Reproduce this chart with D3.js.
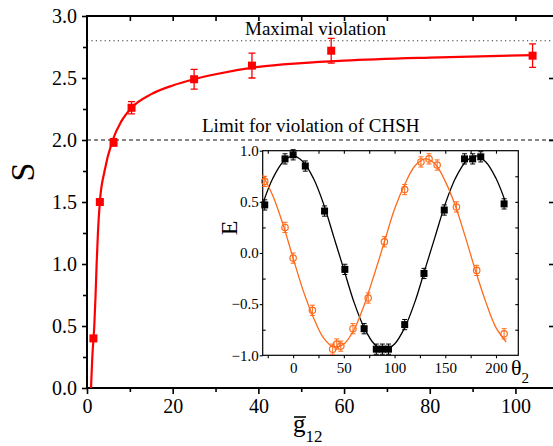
<!DOCTYPE html>
<html>
<head>
<meta charset="utf-8">
<script src="https://cdn.jsdelivr.net/npm/d3@7"></script>
<style>
  body { margin: 0; background: #fff; }
  svg { display: block; }
  svg text { font-family: "Liberation Serif", "Times New Roman", Times, Tinos, "DejaVu Serif", serif; }
</style>
</head>
<body>
<div id="chart"></div>
<script>
// main panel: S versus g12
const gVals = [1.5, 3.0, 6.2, 10.4, 25, 38.5, 57, 104];
const sVals = [0.40, 1.50, 1.98, 2.26, 2.49, 2.60, 2.72, 2.68];
const sErr = [0.02, 0.02, 0.03, 0.05, 0.08, 0.10, 0.10, 0.095];
// fitted curve
const fitG = [0.94, 1.24, 1.7, 2.0, 2.25, 2.55, 3.0, 4.1, 6.0, 8.0, 10.4, 15, 20, 25, 30, 40, 50, 60, 80, 104];
const fitS = [0.0, 0.25, 0.5, 0.75, 1.0, 1.25, 1.5, 1.75, 2.0, 2.15, 2.26, 2.37, 2.44, 2.49, 2.53, 2.59, 2.62, 2.64, 2.665, 2.685];
const xTicks = [0, 20, 40, 60, 80, 100];
const yTicks = [0, 0.5, 1.0, 1.5, 2.0, 2.5, 3.0];

// inset: E versus theta2
const thBlack = [-28, -8, 0, 12, 31, 51, 70, 82, 88, 94, 110, 129, 149, 169, 177, 185, 208];
const eBlack = [0.47, 0.92, 0.96, 0.85, 0.41, -0.16, -0.74, -0.94, -0.94, -0.94, -0.70, -0.20, 0.42, 0.92, 0.92, 0.94, 0.48];
const thOrange = [-28, -8, 0, 19, 39, 43, 47, 59, 74, 90, 110, 126, 134, 142, 161, 181, 208];
const eOrange = [0.70, 0.25, -0.05, -0.56, -0.94, -0.89, -0.91, -0.74, -0.44, 0.11, 0.62, 0.89, 0.92, 0.86, 0.45, -0.17, -0.79];
// fit curves every 10 degrees
const fitTh = [-30, -20, -10, 0, 10, 20, 30, 40, 50, 60, 70, 80, 90, 100, 110, 120, 130, 140, 150, 160, 170, 180, 190, 200, 210];
const fitBlack = [0.48, 0.73, 0.89, 0.95, 0.89, 0.73, 0.48, 0.16, -0.16, -0.48, -0.73, -0.89, -0.95, -0.89, -0.73, -0.48, -0.16, 0.16, 0.48, 0.73, 0.89, 0.95, 0.89, 0.73, 0.48];
const fitOrange = [0.76, 0.56, 0.28, -0.05, -0.37, -0.63, -0.83, -0.92, -0.89, -0.75, -0.51, -0.21, 0.11, 0.43, 0.67, 0.85, 0.92, 0.87, 0.70, 0.46, 0.15, -0.18, -0.48, -0.73, -0.87];
const inXTicks = [0, 50, 100, 150, 200];
const inYTicks = [-1, -0.5, 0, 0.5, 1];

const width = 553, height = 446;
const red = '#ff0000', orange = '#ff6a1a';
const serif = '"Liberation Serif", "Times New Roman", Times, Tinos, "DejaVu Serif", serif';

const svg = d3.select('#chart').append('svg')
  .attr('width', width)
  .attr('height', height);

const x = d3.scaleLinear().domain([0, 109]).range([87, 554]);
const y = d3.scaleLinear().domain([0, 3]).range([388, 16]);

// reference lines
svg.append('line')
  .attr('x1', x(0)).attr('x2', x(109))
  .attr('y1', y(2.8)).attr('y2', y(2.8))
  .attr('stroke', '#333').attr('stroke-width', 1.1)
  .attr('stroke-dasharray', '1.2,3.2');
svg.append('line')
  .attr('x1', x(0)).attr('x2', x(109))
  .attr('y1', y(2.0)).attr('y2', y(2.0))
  .attr('stroke', '#111').attr('stroke-width', 1.1)
  .attr('stroke-dasharray', '4,3');

svg.append('text')
  .attr('x', 245).attr('y', 35)
  .style('font-size', '19px')
  .text('Maximal violation');
svg.append('text')
  .attr('x', 202).attr('y', 132)
  .style('font-size', '19px')
  .text('Limit for violation of CHSH');

// main axes
function styleAxis(g, size) {
  g.select('.domain').remove();
  g.selectAll('line').attr('stroke', '#000').attr('stroke-width', 1.6);
  g.attr('font-family', null).attr('font-size', null);
  g.selectAll('text').style('font-size', size).style('font-family', serif).attr('fill', '#000');
}
const fmt1 = d3.format('.1f');

svg.append('g').attr('transform', `translate(0,${y(0)})`)
  .call(d3.axisBottom(x).tickValues(xTicks).tickSize(6).tickPadding(5).tickFormat(d3.format('d')))
  .call(g => styleAxis(g, '20px'));
svg.append('g').attr('transform', `translate(0,${y(0)})`)
  .call(d3.axisBottom(x).tickValues([10, 30, 50, 70, 90]).tickSize(4).tickFormat(''))
  .call(g => styleAxis(g, '20px'));
svg.append('g').attr('transform', `translate(${x(0)},0)`)
  .call(d3.axisLeft(y).tickValues(yTicks).tickSize(5).tickPadding(5).tickFormat(fmt1))
  .call(g => styleAxis(g, '20px'));
svg.append('g').attr('transform', `translate(${x(0)},0)`)
  .call(d3.axisLeft(y).tickValues([0.25, 0.75, 1.25, 1.75, 2.25, 2.75]).tickSize(4).tickFormat(''))
  .call(g => styleAxis(g, '20px'));
svg.append('g').attr('transform', `translate(0,${y(3)})`)
  .call(d3.axisBottom(x).tickValues(d3.range(10, 109, 10)).tickSize(5).tickFormat(''))
  .call(g => styleAxis(g, '20px'));
svg.append('g').attr('transform', `translate(${x(109)},0)`)
  .call(d3.axisLeft(y).tickValues(d3.range(0.5, 3, 0.5)).tickSize(5).tickFormat(''))
  .call(g => styleAxis(g, '20px'));

svg.append('rect')
  .attr('x', x(0)).attr('y', y(3))
  .attr('width', x(109) - x(0)).attr('height', y(0) - y(3))
  .attr('fill', 'none').attr('stroke', '#000').attr('stroke-width', 2);

// axis titles
svg.append('text')
  .attr('transform', 'translate(34,172) rotate(-90)')
  .attr('text-anchor', 'middle')
  .style('font-size', '34px')
  .text('S');
const xt = svg.append('text').attr('x', 293).attr('y', 432);
xt.append('tspan').style('font-size', '25px').text('g');
xt.append('tspan').attr('dy', 10).style('font-size', '17px').text('12');
svg.append('line')
  .attr('x1', 294).attr('x2', 306).attr('y1', 417).attr('y2', 417)
  .attr('stroke', '#000').attr('stroke-width', 1.6);

// fitted red curve and data
const mainLine = d3.line()
  .x((d, i) => x(fitG[i]))
  .y(d => y(d))
  .curve(d3.curveMonotoneX);
svg.append('path')
  .attr('d', mainLine(fitS))
  .attr('fill', 'none').attr('stroke', red).attr('stroke-width', 2.2);

const mainPts = svg.append('g');
gVals.forEach((g, i) => {
  const cx = x(g), top = y(sVals[i] + sErr[i]), bot = y(sVals[i] - sErr[i]);
  mainPts.append('path')
    .attr('d', `M${cx},${top}V${bot}M${cx - 3.5},${top}H${cx + 3.5}M${cx - 3.5},${bot}H${cx + 3.5}`)
    .attr('stroke', red).attr('stroke-width', 1.3).attr('fill', 'none');
  mainPts.append('rect')
    .attr('x', cx - 4).attr('y', y(sVals[i]) - 4)
    .attr('width', 8).attr('height', 8)
    .attr('fill', red);
});

// inset
const ix = d3.scaleLinear().domain([-30, 222]).range([262.7, 518.3]);
const iy = d3.scaleLinear().domain([-1, 1]).range([355.3, 150.7]);
const inset = svg.append('g');

inset.append('rect')
  .attr('x', ix(-30)).attr('y', iy(1))
  .attr('width', ix(222) - ix(-30)).attr('height', iy(-1) - iy(1))
  .attr('fill', '#fff');

function styleInset(g) {
  g.select('.domain').remove();
  g.selectAll('line').attr('stroke', '#000').attr('stroke-width', 1.1);
  g.attr('font-family', null).attr('font-size', null);
  g.selectAll('text').style('font-size', '15px').style('font-family', serif).attr('fill', '#000');
}
inset.append('g').attr('transform', `translate(0,${iy(-1)})`)
  .call(d3.axisBottom(ix).tickValues(inXTicks).tickSize(3).tickPadding(4).tickFormat(d3.format('d')))
  .call(styleInset);
inset.append('g').attr('transform', `translate(0,${iy(-1)})`)
  .call(d3.axisBottom(ix).tickValues([-25, 25, 75, 125, 175]).tickSize(3).tickFormat(''))
  .call(styleInset);
inset.append('g').attr('transform', `translate(0,${iy(1)})`)
  .call(d3.axisBottom(ix).tickValues(d3.range(-25, 222, 25)).tickSize(3).tickFormat(''))
  .call(styleInset);
inset.append('g').attr('transform', `translate(${ix(-30)},0)`)
  .call(d3.axisLeft(iy).tickValues(inYTicks).tickSize(3).tickPadding(1).tickFormat(fmt1))
  .call(styleInset);
inset.append('g').attr('transform', `translate(${ix(-30)},0)`)
  .call(d3.axisRight(iy).tickValues([-0.75, -0.25, 0.25, 0.75]).tickSize(3).tickFormat(''))
  .call(styleInset);
inset.append('g').attr('transform', `translate(${ix(222)},0)`)
  .call(d3.axisLeft(iy).tickValues(d3.range(-0.75, 1, 0.25)).tickSize(3).tickFormat(''))
  .call(styleInset);

inset.append('rect')
  .attr('x', ix(-30)).attr('y', iy(1))
  .attr('width', ix(222) - ix(-30)).attr('height', iy(-1) - iy(1))
  .attr('fill', 'none').attr('stroke', '#000').attr('stroke-width', 1.2);

inset.append('text')
  .attr('transform', 'translate(237,228) rotate(-90)')
  .attr('text-anchor', 'middle')
  .style('font-size', '24px')
  .text('E');
const th = inset.append('text').attr('x', 511).attr('y', 375);
th.append('tspan').style('font-size', '22px').text('θ');
th.append('tspan').attr('dy', 8).style('font-size', '15px').text('2');

const inLine = d3.line()
  .x((d, i) => ix(fitTh[i]))
  .y(d => iy(d))
  .curve(d3.curveCatmullRom);
inset.append('path')
  .attr('d', inLine(fitBlack))
  .attr('fill', 'none').attr('stroke', '#000').attr('stroke-width', 1.3);
inset.append('path')
  .attr('d', inLine(fitOrange))
  .attr('fill', 'none').attr('stroke', orange).attr('stroke-width', 1.3);

function errBar(g, cx, v, e, color) {
  const top = iy(v + e), bot = iy(v - e);
  g.append('path')
    .attr('d', `M${cx},${top}V${bot}M${cx - 2.5},${top}H${cx + 2.5}M${cx - 2.5},${bot}H${cx + 2.5}`)
    .attr('stroke', color).attr('stroke-width', 1).attr('fill', 'none');
}

thOrange.forEach((t, i) => {
  errBar(inset, ix(t), eOrange[i], 0.05, orange);
  inset.append('circle')
    .attr('cx', ix(t)).attr('cy', iy(eOrange[i])).attr('r', 3.2)
    .attr('fill', 'none').attr('stroke', orange).attr('stroke-width', 1.2);
});
thBlack.forEach((t, i) => {
  errBar(inset, ix(t), eBlack[i], 0.05, '#000');
  inset.append('rect')
    .attr('x', ix(t) - 3.5).attr('y', iy(eBlack[i]) - 3.5)
    .attr('width', 7).attr('height', 7)
    .attr('fill', '#000');
});
</script>
</body>
</html>
